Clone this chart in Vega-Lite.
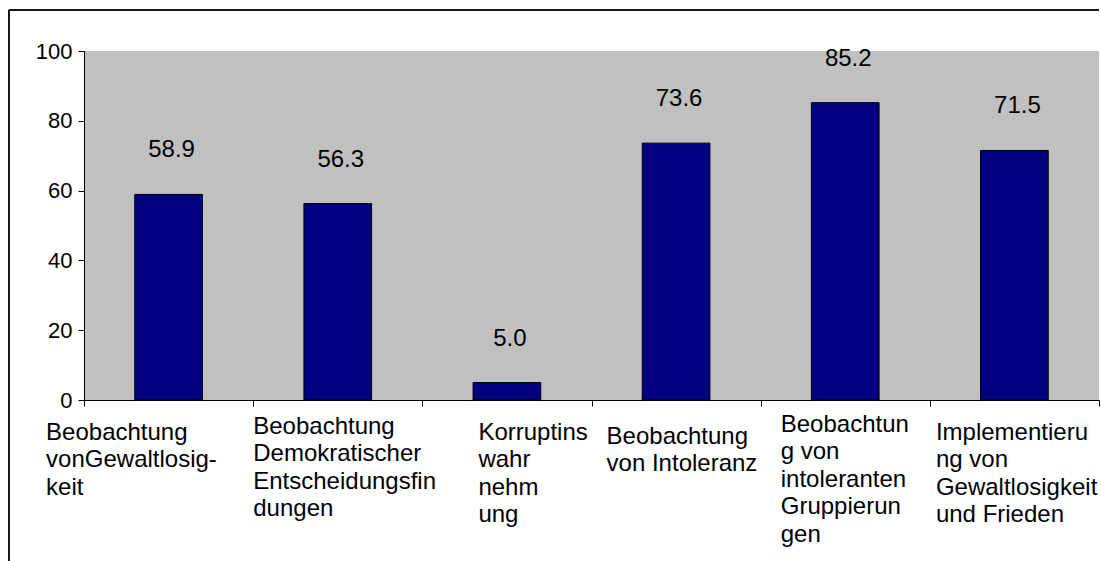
{
  "$schema": "https://vega.github.io/schema/vega-lite/v6.json",
  "width": 1015,
  "height": 349,
  "autosize": {"type": "none"},
  "padding": {"left": 84, "top": 51, "right": 2, "bottom": 161},
  "background": "white",
  "config": {
    "view": {"fill": "#C0C0C0", "stroke": null},
    "font": "Liberation Sans"
  },
  "data": {
    "values": [
      {"kategorie": "Beobachtung\nvonGewaltlosig-\nkeit", "wert": 58.9},
      {"kategorie": "Beobachtung\nDemokratischer\nEntscheidungsfin\ndungen", "wert": 56.3},
      {"kategorie": "Korruptins\nwahr\nnehm\nung", "wert": 5.0},
      {"kategorie": "Beobachtung\nvon Intoleranz", "wert": 73.6},
      {"kategorie": "Beobachtun\ng von\nintoleranten\nGruppierun\ngen", "wert": 85.2},
      {"kategorie": "Implementieru\nng von\nGewaltlosigkeit\nund Frieden", "wert": 71.5}
    ]
  },
  "resolve": {"axis": {"x": "independent", "y": "independent"}},
  "layer": [
    {
      "mark": {"type": "bar", "fill": "#000080", "stroke": "#000000", "strokeWidth": 1, "width": {"band": 0.4}},
      "encoding": {
        "x": {
          "field": "kategorie",
          "type": "nominal",
          "sort": null,
          "scale": {"paddingInner": 0, "paddingOuter": 0},
          "axis": {
            "title": null,
            "labelExpr": "datum.value ? split(datum.value, '\\n') : ''",
            "labelAlign": "left",
            "labelBaseline": "top",
            "labelFont": "Liberation Sans",
            "labelFontSize": 24,
            "labelLineHeight": 27.6,
            "labelColor": "#000000",
            "labelOverlap": false,
            "labelLimit": 0,
            "labelBound": false,
            "labelFlush": false,
            "labelAngle": 0,
            "tickBand": "extent",
            "tickColor": "#000000",
            "tickSize": 6,
            "domainColor": "#000000",
            "labelPadding": {
              "condition": [
                {"test": "datum.value == 'Beobachtung\\nDemokratischer\\nEntscheidungsfin\\ndungen'", "value": 8},
                {"test": "datum.value == 'Beobachtun\\ng von\\nintoleranten\\nGruppierun\\ngen'", "value": 6},
                {"test": "datum.value == 'Beobachtung\\nvon Intoleranz'", "value": 18}
              ],
              "value": 14
            },
            "labelOffset": {
              "condition": [
                {"test": "datum.value == 'Beobachtung\\nvonGewaltlosig-\\nkeit'", "value": -123},
                {"test": "datum.value == 'Beobachtung\\nDemokratischer\\nEntscheidungsfin\\ndungen'", "value": -85},
                {"test": "datum.value == 'Korruptins\\nwahr\\nnehm\\nung'", "value": -29},
                {"test": "datum.value == 'Beobachtung\\nvon Intoleranz'", "value": -70},
                {"test": "datum.value == 'Beobachtun\\ng von\\nintoleranten\\nGruppierun\\ngen'", "value": -65}
              ],
              "value": -79
            }
          }
        },
        "y": {
          "field": "wert",
          "type": "quantitative",
          "scale": {"domain": [0, 100], "nice": false},
          "axis": {
            "title": null,
            "values": [0, 20, 40, 60, 80, 100],
            "grid": false,
            "labelFont": "Liberation Sans",
            "labelFontSize": 22,
            "labelColor": "#000000",
            "labelPadding": 6,
            "tickSize": 6,
            "tickColor": "#000000",
            "domainColor": "#000000"
          }
        }
      }
    },
    {
      "mark": {"type": "text", "dy": -44, "dx": 3, "fontSize": 24, "font": "Liberation Sans", "color": "#000000", "baseline": "middle", "align": "center"},
      "encoding": {
        "x": {"field": "kategorie", "type": "nominal", "sort": null, "axis": null},
        "y": {"field": "wert", "type": "quantitative", "axis": null},
        "text": {"field": "wert", "type": "quantitative", "format": ".1f"}
      }
    },
    {
      "mark": {"type": "rule", "color": "#1a1a1a", "strokeWidth": 1.5},
      "encoding": {
        "y": {"datum": 111.7, "axis": null}
      }
    },
    {
      "mark": {"type": "rule", "color": "#1a1a1a", "strokeWidth": 1.5},
      "encoding": {
        "x": {"datum": "Beobachtung\nvonGewaltlosig-\nkeit", "bandPosition": -0.444, "axis": null},
        "x2": {"datum": "Korruptins\nwahr\nnehm\nung"},
        "y": {"datum": 111.7, "axis": null},
        "y2": {"datum": 111.7}
      }
    },
    {
      "mark": {"type": "rule", "color": "#1a1a1a", "strokeWidth": 1.5},
      "encoding": {
        "x": {"datum": "Beobachtung\nvonGewaltlosig-\nkeit", "bandPosition": -0.444, "axis": null},
        "y": {"datum": 111.7, "axis": null},
        "y2": {"datum": -47}
      }
    }
  ]
}
